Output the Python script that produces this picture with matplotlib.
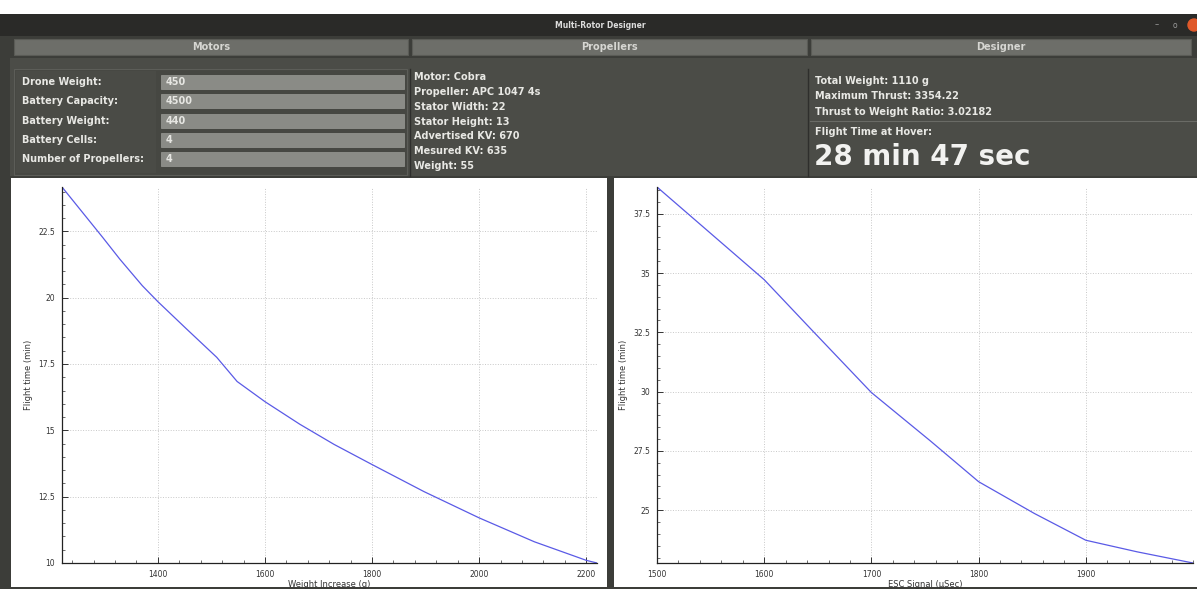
"""
Multi-Rotor Designer window: info panel on top, two flight time curves below
"""

import matplotlib
matplotlib.use("Agg")
import matplotlib.pyplot as plt
from matplotlib.patches import Rectangle
from matplotlib.ticker import AutoMinorLocator, MultipleLocator

# --- data ---
weight_increase = [1221, 1297, 1329, 1371, 1400, 1452, 1510, 1548, 1600, 1665,
                   1729, 1800, 1897, 2000, 2103, 2200, 2220]
flight_time_weight = [24.17, 22.27, 21.45, 20.45, 19.85, 18.85, 17.75, 16.84, 16.08,
                      15.23, 14.47, 13.71, 12.69, 11.70, 10.80, 10.10, 10.0]

esc_signal = [1500, 1600, 1645, 1700, 1755, 1800, 1852, 1900, 1948, 2000]
flight_time_esc = [38.63, 34.72, 32.57, 29.96, 27.92, 26.2, 24.86, 23.73, 23.24, 22.77]
esc_ticks = [1500, 1600, 1700, 1800, 1900]  # 2000 label is cut off in the window

tab_names = ["Motors", "Propellers", "Designer"]
input_labels = ["Drone Weight:", "Battery Capacity:", "Battery Weight:",
                "Battery Cells:", "Number of Propellers:"]
input_values = ["450", "4500", "440", "4", "4"]
motor_info = ["Motor: Cobra", "Propeller: APC 1047 4s", "Stator Width: 22",
              "Stator Height: 13", "Advertised KV: 670", "Mesured KV: 635", "Weight: 55"]
design_info = ["Total Weight: 1110 g", "Maximum Thrust: 3354.22",
               "Thrust to Weight Ratio: 3.02182"]
hover_label = "Flight Time at Hover:"
hover_time = "28 min 47 sec"

W, H = 1197, 589
fig = plt.figure(figsize=(W / 100, H / 100), dpi=100)
fig.patch.set_facecolor("white")

# background axes in pixel coords for the window chrome
bg = fig.add_axes([0, 0, 1, 1])
bg.set_xlim(0, W)
bg.set_ylim(H, 0)
bg.axis("off")


def box(x, y, w, h, fc, ec="none", lw=0):
    bg.add_patch(Rectangle((x, y), w, h, facecolor=fc, edgecolor=ec, linewidth=lw))


txt_clr = "#e8e8e4"
bold = dict(fontweight="bold", family="DejaVu Sans")
fs = 7.0

# window background + title bar
box(0, 14, W, H - 14, "#3c3d39")
box(0, 14, W, 22, "#2a2a28")
bg.text(600, 25, "Multi-Rotor Designer", color="#dcdcdc", fontsize=5.5, ha="center", va="center", **bold)
bg.text(1157, 25, "–", color="#9a9a9a", fontsize=6, ha="center", va="center")
bg.text(1175, 25, "o", color="#9a9a9a", fontsize=5.5, ha="center", va="center")
bg.add_patch(plt.Circle((1194, 25), 6, color="#e0592a"))

# tab buttons
tab_x = [(14, 394), (412, 395), (811, 380)]
for (x0, w), name in zip(tab_x, tab_names):
    box(x0, 39, w, 16, "#6d6e69", ec="#5a5b56", lw=0.8)
    bg.text(x0 + w / 2, 47, name, color="#d6d6d2", fontsize=7, ha="center", va="center", **bold)

# info panel
box(10, 58, 1187, 119, "#4b4c47")
box(14, 69, 393, 106, "#464742", ec="#5c5d58", lw=0.8)
box(16, 71, 140, 102, "#4a4b46")
row_y = [75, 94, 114, 133, 152]
for y, lab, val in zip(row_y, input_labels, input_values):
    bg.text(22, y + 7, lab, color=txt_clr, fontsize=fs, ha="left", va="center", **bold)
    box(161, y, 243, 14, "#8a8b86", ec="#9a9b96", lw=0.5)
    bg.text(166, y + 7, val, color="#e6e6e2", fontsize=fs, ha="left", va="center", **bold)

bg.plot([410, 410], [69, 176], color="#2e2e2c", lw=1)
bg.plot([808, 808], [69, 176], color="#2e2e2c", lw=1)
info_y = [77, 92, 107, 122, 136, 151, 166]
for y, t in zip(info_y, motor_info):
    bg.text(414, y, t, color=txt_clr, fontsize=fs, ha="left", va="center", **bold)

for y, t in zip([81, 96, 112], design_info):
    bg.text(815, y, t, color=txt_clr, fontsize=fs, ha="left", va="center", **bold)
bg.plot([810, 1197], [121, 121], color="#6a6b66", lw=0.8)
bg.text(815, 132, hover_label, color=txt_clr, fontsize=fs, ha="left", va="center", **bold)
bg.text(814, 157, hover_time, color="#f2f2f0", fontsize=20, ha="left", va="center", **bold)

# plot panels
box(0, 176, W, H - 176, "#3c3d39")
box(11, 178, 596, 409, "white")
box(614, 178, 583, 409, "white")


def style_axes(ax, xlabel):
    ax.set_facecolor("white")
    for s in ["top", "right"]:
        ax.spines[s].set_visible(False)
    for s in ["left", "bottom"]:
        ax.spines[s].set_color("#222222")
        ax.spines[s].set_linewidth(0.9)
    ax.grid(True, which="major", color="#c8c8c8", linestyle=":", linewidth=0.7)
    ax.xaxis.set_minor_locator(AutoMinorLocator(5))
    ax.yaxis.set_minor_locator(AutoMinorLocator(5))
    ax.tick_params(which="major", direction="in", length=4, width=0.7, colors="#333333",
                   labelsize=5.5, labelcolor="#333333", pad=5)
    ax.tick_params(which="minor", direction="in", length=2, width=0.5, colors="#333333")
    ax.set_xlabel(xlabel, fontsize=6, color="#333333", labelpad=1)
    ax.set_ylabel("Flight time (min)", fontsize=6, color="#333333", labelpad=4)


ax1 = fig.add_axes([62 / W, 1 - 563 / H, 535 / W, 376 / H])
ax1.plot(weight_increase, flight_time_weight, color="#5a5ae6", lw=0.9)
ax1.set_xlim(min(weight_increase), max(weight_increase))
ax1.set_ylim(min(flight_time_weight), max(flight_time_weight))
ax1.xaxis.set_major_locator(MultipleLocator(200))
ax1.yaxis.set_major_locator(MultipleLocator(2.5))
ax1.yaxis.set_major_formatter(plt.FuncFormatter(lambda v, p: f"{v:g}"))
style_axes(ax1, "Weight Increase (g)")

ax2 = fig.add_axes([657 / W, 1 - 563 / H, 536 / W, 376 / H])
ax2.plot(esc_signal, flight_time_esc, color="#5a5ae6", lw=0.9)
ax2.set_xlim(min(esc_signal), max(esc_signal))
ax2.set_ylim(min(flight_time_esc), max(flight_time_esc))
ax2.set_xticks(esc_ticks)
ax2.yaxis.set_major_locator(MultipleLocator(2.5))
ax2.yaxis.set_major_formatter(plt.FuncFormatter(lambda v, p: f"{v:g}"))
style_axes(ax2, "ESC Signal (\u03bcSec)")
ax2.xaxis.set_minor_locator(MultipleLocator(20))

fig.savefig("out.png", dpi=100)
